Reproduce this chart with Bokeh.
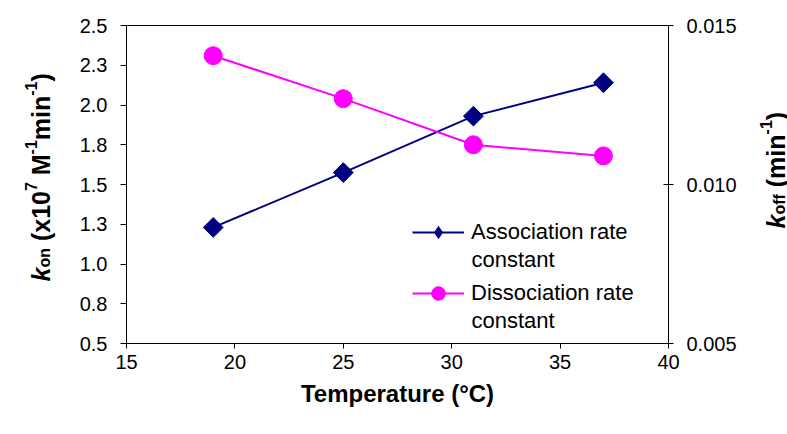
from bokeh.plotting import figure
from bokeh.models import Range1d, LinearAxis, FixedTicker, Legend, LegendItem, Label
from bokeh.embed import file_html
from bokeh.resources import INLINE
import math

# ---- data ----
temperature = [19, 25, 31, 37]
k_on = [1.23, 1.575, 1.93, 2.14]            # x10^7 M^-1 min^-1
k_off = [0.01405, 0.0127, 0.01125, 0.0109]  # min^-1
x_ticks = [15, 20, 25, 30, 35, 40]
left_ticks = [0.5, 0.75, 1.0, 1.25, 1.5, 1.75, 2.0, 2.25, 2.5]
left_tick_labels = ["0.5", "0.8", "1.0", "1.3", "1.5", "1.8", "2.0", "2.3", "2.5"]
right_ticks = [0.005, 0.010, 0.015]
right_tick_labels = ["0.005", "0.010", "0.015"]
series_names = [["Association rate", "constant"], ["Dissociation rate", "constant"]]

FONT = "Liberation Sans"
W, H = 787, 434
FL, FR, FT, FB = 126, 668, 25, 343  # plot-box edges in canvas px
X0, X1 = 15, 40
L0, L1 = 0.5, 2.5
R0, R1 = 0.005, 0.015

# ranges extended so the plot box lands at the wanted pixels while the frame fills the canvas
xs = (FR - FL) / (X1 - X0)
ls = (FB - FT) / (L1 - L0)
rs = (FB - FT) / (R1 - R0)
x_range = Range1d(X0 - FL / xs, X1 + (W - FR) / xs)
y_range = Range1d(L0 - (H - FB) / ls, L1 + FT / ls)
r_range = Range1d(R0 - (H - FB) / rs, R1 + FT / rs)

p = figure(width=W, height=H, output_backend="svg", toolbar_location=None,
           x_range=x_range, y_range=y_range,
           x_axis_location=None, y_axis_location=None, min_border=0)
p.extra_y_ranges = {"right": r_range}
p.grid.visible = False
p.outline_line_color = None
p.background_fill_color = "white"
p.border_fill_color = "white"


def style_axis(ax, size="20px"):
    ax.major_label_text_font = FONT
    ax.major_label_text_font_size = size
    ax.major_label_text_color = "black"
    ax.minor_tick_in = 0
    ax.minor_tick_out = 0
    ax.axis_line_color = "black"
    ax.axis_line_width = 1
    ax.major_tick_line_color = "black"


# x axis
xa = LinearAxis(fixed_location=L0, bounds=(X0, X1), ticker=FixedTicker(ticks=x_ticks))
style_axis(xa)
xa.axis_label = "Temperature (°C)"
xa.axis_label_text_font = FONT
xa.axis_label_text_font_style = "bold"
xa.axis_label_text_font_size = "24px"
xa.axis_label_text_color = "black"
xa.axis_label_standoff = 8
xa.major_label_standoff = 6
xa.major_tick_in = 0
xa.major_tick_out = 5
p.add_layout(xa, "below")

# top border
ta = LinearAxis(fixed_location=L1, bounds=(X0, X1), ticker=FixedTicker(ticks=[]))
style_axis(ta)
ta.major_tick_in = 0
ta.major_tick_out = 0
p.add_layout(ta, "above")

# left axis
ya = LinearAxis(fixed_location=X0, bounds=(L0, L1), ticker=FixedTicker(ticks=left_ticks))
style_axis(ya)
ya.major_label_overrides = {t: s for t, s in zip(left_ticks, left_tick_labels)}
ya.major_label_standoff = 13
ya.major_tick_in = 0
ya.major_tick_out = 6
p.add_layout(ya, "left")

# right axis
ra = LinearAxis(y_range_name="right", fixed_location=X1, bounds=(R0, R1),
                ticker=FixedTicker(ticks=right_ticks))
style_axis(ra)
ra.major_label_overrides = {t: s for t, s in zip(right_ticks, right_tick_labels)}
ra.major_label_standoff = 13
ra.major_tick_in = 5
ra.major_tick_out = 5
p.add_layout(ra, "right")

# ---- series ----
BLUE = "#000080"
PINK = "#FF00FF"
bl = p.line(temperature, k_on, line_color=BLUE, line_width=2)
bm = p.scatter(temperature, k_on, marker="square", angle=math.pi / 4, size=14,
               fill_color=BLUE, line_color=BLUE)
pl = p.line(temperature, k_off, line_color=PINK, line_width=2, y_range_name="right")
pm = p.scatter(temperature, k_off, marker="circle", size=18,
               fill_color=PINK, line_color=PINK, y_range_name="right")
# legend-only diamond (the legend does not rotate markers); zero size in the plot
leg_diamond = p.scatter(temperature, k_on, marker="diamond", size=0,
                        fill_color=BLUE, line_color=BLUE, line_alpha=0)

# ---- legends ----
LEG_X = 412
GW, GH, STAND = 52, 34, 7
LEG_FS = "22px"


def make_legend(item, center_y):
    return Legend(items=[item], location=(LEG_X, H - (center_y + GH / 2)),
                  orientation="vertical", glyph_width=GW, glyph_height=GH,
                  label_height=GH, label_standoff=STAND, spacing=0, padding=0, margin=0,
                  label_text_font=FONT, label_text_font_size=LEG_FS,
                  label_text_color="black", label_text_baseline="middle",
                  border_line_alpha=0, background_fill_alpha=0)


p.add_layout(make_legend(LegendItem(label=series_names[0][0], renderers=[bl, leg_diamond]), 232))
p.add_layout(make_legend(LegendItem(label=series_names[1][0], renderers=[pl, pm]), 293))
for name, cy in ((series_names[0][1], 259), (series_names[1][1], 320)):
    p.add_layout(Label(x=LEG_X + GW + STAND, y=H - cy, x_units="screen", y_units="screen",
                       text=name, text_font=FONT, text_font_size=LEG_FS,
                       text_color="black", text_align="left", text_baseline="middle"))

# ---- rotated rich-text axis titles ----
AW = {" ": 278, "(": 333, ")": 333, "x": 556, "0": 556, "1": 556, "7": 556, "M": 833,
      "-": 333, "m": 889, "i": 278, "n": 611, "o": 611, "k": 556, "f": 333}


def width(s, size):
    return sum(AW[c] for c in s) / 1000.0 * size


def vertical_title(pieces, base_x, start_y):
    """pieces: (text, size, style, shift); shift>0 raises the piece (moves it left)"""
    y = start_y
    for text, size, style, shift in pieces:
        while text.startswith(" "):
            y -= width(" ", size)
            text = text[1:]
        p.add_layout(Label(x=base_x - shift, y=H - y, x_units="screen", y_units="screen",
                           text=text, angle=math.pi / 2, text_font=FONT,
                           text_font_size=f"{size}px", text_font_style=style,
                           text_color="black", text_align="left",
                           text_baseline="alphabetic"))
        y -= width(text, size)


F, S = 25, 16
vertical_title([("k", F, "bold italic", 0), ("on", S, "bold", -4), (" (x10", F, "bold", 0),
                ("7", S, "bold", 10), (" M", F, "bold", 0), ("-1", S, "bold", 10),
                ("min", F, "bold", 0), ("-1", S, "bold", 10), (")", F, "bold", 0)],
               40, 281)
vertical_title([("k", F, "bold italic", 0), ("off", S, "bold", -4), (" (min", F, "bold", 0),
                ("-1", S, "bold", 10), (")", F, "bold", 0)],
               775, 228)

open("out.html", "w").write(file_html(p, INLINE))
